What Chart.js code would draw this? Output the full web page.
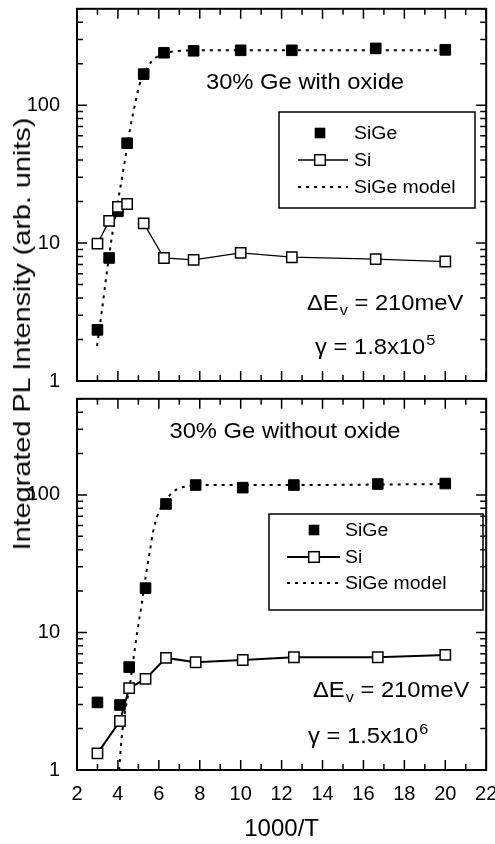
<!DOCTYPE html>
<html>
<head>
<meta charset="utf-8">
<script src="https://cdn.jsdelivr.net/npm/chart.js@4.4.1/dist/chart.umd.min.js"></script>
<style>
  body { margin: 0; background: #fff; width: 495px; height: 844px; position: relative; overflow: hidden; }
  canvas { position: absolute; left: 0; }
  #top { top: 0; }
  #bottom { top: 390px; }
  #ytitle {
    position: absolute; left: 22px; top: 334px;
    transform: translate(-50%, -50%) rotate(-90deg) scaleX(1.2);
    font: 24px "Liberation Sans", Arial, sans-serif; white-space: nowrap; line-height: 1; color: #000;
  }
</style>
</head>
<body>
<canvas id="top" width="495" height="395"></canvas>
<canvas id="bottom" width="495" height="454"></canvas>
<div id="ytitle">Integrated PL Intensity (arb. units)</div>
<script>
const xTicks = [2, 4, 6, 8, 10, 12, 14, 16, 18, 20, 22];
const yTicks = [1, 10, 100];

// 30% Ge with oxide (upper panel)
const oxT = [3.0, 3.57, 4.0, 4.45, 5.26, 6.25, 7.7, 10.0, 12.5, 16.6, 20.0];
const oxSiGe = [2.35, 7.8, 17, 53, 168, 240, 248, 250, 250, 258, 252];
const oxSi = [9.9, 14.5, 18.3, 19.2, 13.9, 7.8, 7.55, 8.5, 7.9, 7.65, 7.35];
const oxModelT = [2.98, 3.2, 3.45, 3.7, 4.05, 4.4, 4.6, 4.85, 5.05, 5.27, 5.65, 5.95, 6.25, 6.85, 7.7, 10, 12.5, 16.6, 20];
const oxModel = [1.8, 3.1, 6.0, 11, 22, 45, 68, 104, 140, 168, 208, 226, 238, 246, 250, 250, 250, 250, 250];

// 30% Ge without oxide (lower panel)
const noT = [3.0, 4.1, 4.55, 5.35, 6.35, 7.8, 10.1, 12.6, 16.7, 20.0];
const noSiGe = [3.1, 2.97, 5.6, 21, 86, 118, 113, 118, 120, 121];
const noSi = [1.32, 2.27, 3.94, 4.6, 6.53, 6.07, 6.31, 6.6, 6.6, 6.87];
const noModelT = [4.06, 4.18, 4.34, 4.59, 4.75, 4.94, 5.16, 5.4, 5.56, 5.72, 5.92, 6.13, 6.34, 6.62, 7.02, 7.5, 8.0, 10, 12.6, 16.7, 20];
const noModel = [1.0, 1.7, 2.6, 4.2, 6.3, 10, 16, 28, 39, 54, 70, 82, 90, 103, 112, 116, 118, 118, 118, 119, 120];

const FONT = '"Liberation Sans", Arial, sans-serif';
const SX = 1.08;

// minor log ticks between the labelled decades, up to the axis top
const yAll = [];
yTicks.forEach(d => { for (let k = 1; k <= 9; k++) if (d * k <= 500) yAll.push(d * k); });

const pts = (xs, ys) => xs.map((x, i) => ({ x: x, y: ys[i] }));

function txt(ctx, s, x, y, size, align) {
  ctx.save();
  ctx.font = size + 'px ' + FONT;
  ctx.textAlign = align || 'left';
  ctx.textBaseline = 'alphabetic';
  ctx.fillStyle = '#000';
  ctx.translate(x, y);
  ctx.scale(SX, 1);
  ctx.fillText(s, 0, 0);
  const w = ctx.measureText(s).width * SX;
  ctx.restore();
  return w;
}

function makePanel(id, d, lay) {
  const decor = {
    id: 'decor',
    afterDraw(chart) {
      const { ctx, chartArea: a, scales: { x, y } } = chart;
      ctx.save();
      ctx.strokeStyle = '#000';
      ctx.lineWidth = 1.5;
      ctx.beginPath();
      for (let v = xTicks[0]; v <= xTicks[xTicks.length - 1]; v++) {
        const px = x.getPixelForValue(v);
        const len = xTicks.includes(v) ? 10 : 6;
        ctx.moveTo(px, a.bottom); ctx.lineTo(px, a.bottom - len);
        ctx.moveTo(px, a.top); ctx.lineTo(px, a.top + len);
      }
      yAll.forEach(v => {
        const py = y.getPixelForValue(v);
        const len = yTicks.includes(v) ? 10 : 6;
        ctx.moveTo(a.left, py); ctx.lineTo(a.left + len, py);
        ctx.moveTo(a.right, py); ctx.lineTo(a.right - len, py);
      });
      ctx.stroke();
      ctx.lineWidth = 2;
      ctx.strokeRect(a.left, a.top, a.right - a.left, a.bottom - a.top);

      // legend box
      const L = lay.legend;
      ctx.lineWidth = 1.5;
      ctx.strokeRect(L.x0, L.y0, L.x1 - L.x0, L.y1 - L.y0);
      const s = 10.6;
      ctx.fillStyle = '#000';
      ctx.fillRect(L.mx - s / 2, L.rows[0] - s / 2, s, s);
      ctx.beginPath();
      ctx.lineWidth = lay.siWidth;
      ctx.moveTo(L.lx0, L.rows[1]); ctx.lineTo(L.lx1, L.rows[1]);
      ctx.stroke();
      ctx.fillStyle = '#fff';
      ctx.lineWidth = 1.5;
      ctx.fillRect(L.mx - s / 2, L.rows[1] - s / 2, s, s);
      ctx.strokeRect(L.mx - s / 2, L.rows[1] - s / 2, s, s);
      ctx.beginPath();
      ctx.lineWidth = 2;
      ctx.setLineDash([3, 5]);
      ctx.moveTo(L.lx0, L.rows[2]); ctx.lineTo(L.lx1, L.rows[2]);
      ctx.stroke();
      ctx.setLineDash([]);
      ['SiGe', 'Si', 'SiGe model'].forEach((t, i) => txt(ctx, t, L.tx, L.rows[i] + 6, 18));

      // annotations
      txt(ctx, lay.title, lay.titleX, lay.titleY, 22, 'center');
      let xx = lay.dx;
      xx += txt(ctx, 'ΔE', xx, lay.dy, 22);
      xx += txt(ctx, 'v', xx + 1, lay.dy + 5, 15) + 1;
      txt(ctx, ' = 210meV', xx, lay.dy, 22);
      xx = lay.gx;
      xx += txt(ctx, 'γ = ' + lay.gamma[0] + 'x10', xx, lay.gy, 22);
      txt(ctx, lay.gamma[1], xx + 1, lay.gy - 9, 15);
      ctx.restore();
    }
  };

  return new Chart(document.getElementById(id), {
    type: 'scatter',
    data: {
      datasets: [
        {
          label: 'SiGe model',
          data: pts(d.modelT, d.model),
          showLine: true,
          borderColor: '#000',
          borderWidth: 2,
          borderDash: [3, 5],
          pointRadius: 0,
          cubicInterpolationMode: 'monotone',
          order: 3,
        },
        {
          label: 'SiGe',
          data: pts(d.t, d.sige),
          showLine: false,
          pointStyle: 'rect',
          pointRadius: 7.5,
          backgroundColor: '#000',
          borderColor: '#000',
          borderWidth: 1,
          order: 2,
        },
        {
          label: 'Si',
          data: pts(d.t, d.si),
          showLine: true,
          borderColor: '#000',
          borderWidth: lay.siWidth,
          pointStyle: 'rect',
          pointRadius: 7.3,
          pointBackgroundColor: '#fff',
          pointBorderColor: '#000',
          pointBorderWidth: 1.5,
          segment: {
            borderColor: c => (lay.gapAt.includes(c.p0DataIndex) ? 'rgba(0,0,0,0)' : undefined),
          },
          order: 1,
        },
      ],
    },
    options: {
      responsive: false,
      animation: false,
      layout: { padding: { left: 0, right: 8, top: lay.padTop, bottom: 0 } },
      plugins: { legend: { display: false }, tooltip: { enabled: false } },
      scales: {
        x: {
          type: 'linear',
          min: 2,
          max: 22,
          grid: { display: false },
          border: { display: false },
          afterBuildTicks: s => { s.ticks = xTicks.map(v => ({ value: v })); },
          afterFit: s => { s.height = lay.xHeight; s.paddingLeft = 0; s.paddingRight = 0; },
          ticks: {
            display: lay.xLabels,
            padding: 4,
            autoSkip: false,
            maxRotation: 0,
            color: '#000',
            font: { size: 20, family: FONT },
          },
          title: {
            display: lay.xLabels,
            text: '1000/T',
            color: '#000',
            padding: 0,
            font: { size: 24, family: FONT },
          },
        },
        y: {
          type: 'logarithmic',
          min: 1,
          max: 500,
          grid: { display: false },
          border: { display: false },
          afterBuildTicks: s => { s.ticks = yAll.map(v => ({ value: v })); },
          afterFit: s => { s.width = 77; s.paddingTop = 0; s.paddingBottom = 0; },
          ticks: {
            padding: 9,
            autoSkip: false,
            color: '#000',
            font: { size: 20, family: FONT },
            callback: v => (yTicks.includes(v) ? String(v) : ''),
          },
        },
      },
    },
    plugins: [decor],
  });
}

makePanel(
  'top',
  { t: oxT, sige: oxSiGe, si: oxSi, modelT: oxModelT, model: oxModel },
  {
    padTop: 8, xHeight: 14, xLabels: false, siWidth: 1.3, gapAt: [3],
    legend: { x0: 279, x1: 475, y0: 112, y1: 208, rows: [133, 160, 187], mx: 320, lx0: 298, lx1: 348, tx: 354 },
    title: '30% Ge with oxide', titleX: 305, titleY: 89,
    dx: 307, dy: 310, gx: 315, gy: 354, gamma: ['1.8', '5'],
  }
);

makePanel(
  'bottom',
  { t: noT, sige: noSiGe, si: noSi, modelT: noModelT, model: noModel },
  {
    padTop: 7, xHeight: 74, xLabels: true, siWidth: 2, gapAt: [],
    legend: { x0: 269, x1: 483, y0: 124, y1: 220, rows: [140, 167, 193], mx: 314, lx0: 287, lx1: 340, tx: 345 },
    title: '30% Ge without oxide', titleX: 285, titleY: 48,
    dx: 313, dy: 307, gx: 308, gy: 353, gamma: ['1.5', '6'],
  }
);
</script>
</body>
</html>
